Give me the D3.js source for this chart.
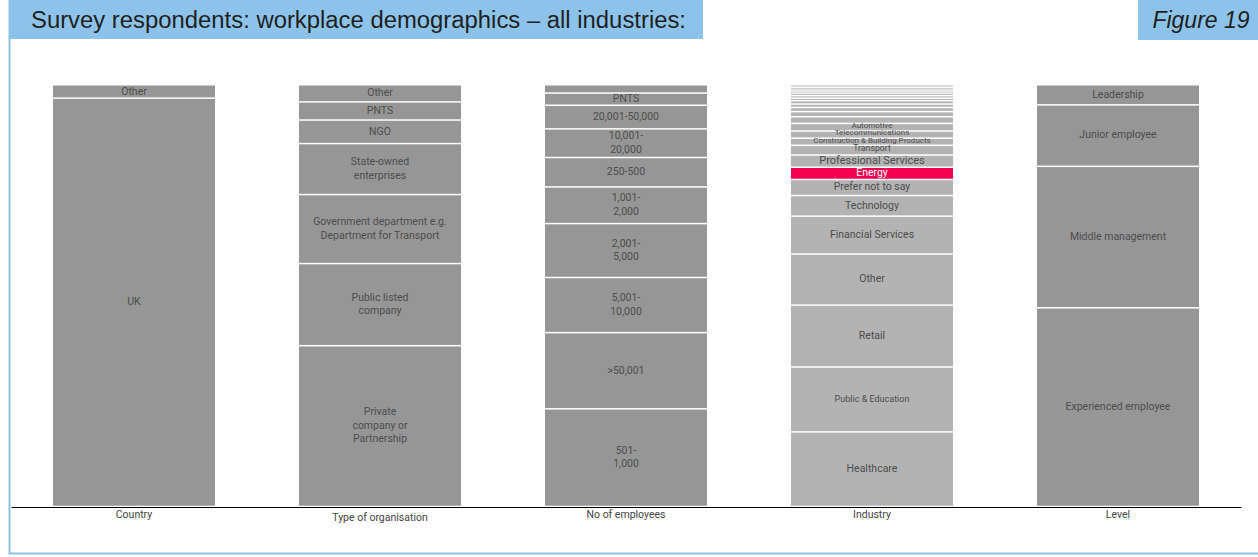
<!DOCTYPE html>
<html>
<head>
<meta charset="utf-8">
<script src="https://cdn.jsdelivr.net/npm/d3@7"></script>
<style>
  html, body { margin: 0; padding: 0; background: #fff; }
  svg { display: block; }
</style>
</head>
<body>
<div id="chart"></div>
<script>
// Survey respondents: workplace demographics - stacked share columns
// shares in %, listed top to bottom as stacked in the picture

const columns = ['Country', 'Type of organisation', 'No of employees', 'Industry', 'Level'];

const countryLabels = ['Other', 'UK'];
const countryValues = [3.0, 97.0];

const orgLabels = ['Other', 'PNTS', 'NGO', 'State-owned\nenterprises',
  'Government department e.g.\nDepartment for Transport', 'Public listed\ncompany',
  'Private\ncompany or\nPartnership'];
const orgValues = [3.9, 4.3, 5.6, 12.1, 16.4, 19.5, 38.2];

const employeeLabels = ['', 'PNTS', '20,001-50,000', '10,001-\n20,000', '250-500',
  '1,001-\n2,000', '2,001-\n5,000', '5,001-\n10,000', '>50,001', '501-\n1,000'];
const employeeValues = [1.8, 2.9, 5.6, 6.8, 7.0, 8.7, 12.8, 13.1, 18.1, 23.2];

// the twelve thin unlabelled industries at the top of the column
const industryLabels = ['', '', '', '', '', '', '', '', '', '', '', '',
  'Automotive', 'Telecommunications', 'Construction & Building Products', 'Transport',
  'Professional Services', 'Energy', 'Prefer not to say', 'Technology',
  'Financial Services', 'Other', 'Retail', 'Public & Education', 'Healthcare'];
const industryValues = [0.4, 0.4, 0.5, 0.5, 0.6, 0.6, 0.6, 0.8, 0.8, 1.0, 1.2, 1.6,
  1.8, 1.7, 1.7, 2.3, 2.9, 2.9, 3.8, 4.9, 9.0, 12.1, 14.7, 15.4, 17.7];

const levelLabels = ['Leadership', 'Junior employee', 'Middle management', 'Experienced employee'];
const levelValues = [4.6, 14.6, 33.6, 47.2];

const highlight = 'Energy';

const W = 1258, H = 557;
const blue = '#8dc3ea';
const barGrey = '#969696';
const lightGrey = '#b3b3b3';
const textCol = '#4d4d4d';

const table = [
  { name: columns[0], labels: countryLabels, values: countryValues },
  { name: columns[1], labels: orgLabels, values: orgValues },
  { name: columns[2], labels: employeeLabels, values: employeeValues },
  { name: columns[3], labels: industryLabels, values: industryValues },
  { name: columns[4], labels: levelLabels, values: levelValues }
];

const svg = d3.select('#chart').append('svg')
  .attr('width', W).attr('height', H);

// frame + header
svg.append('path')
  .attr('d', `M9.5,0 V553.5 H${W}`)
  .attr('fill', 'none').attr('stroke', blue).attr('stroke-width', 2);

svg.append('rect').attr('x', 9).attr('y', 0).attr('width', 694).attr('height', 39).attr('fill', blue);
svg.append('text')
  .attr('x', 31).attr('y', 28)
  .attr('textLength', 655).attr('lengthAdjust', 'spacingAndGlyphs')
  .style('font-family', '"Liberation Sans", Arial, sans-serif').style('font-size', '23px')
  .style('fill', '#1f1f1f')
  .text('Survey respondents: workplace demographics \u2013 all industries:');

svg.append('rect').attr('x', 1138).attr('y', 0).attr('width', 120).attr('height', 40).attr('fill', blue);
svg.append('text')
  .attr('x', 1201).attr('y', 28).attr('text-anchor', 'middle')
  .style('font-family', '"Liberation Sans", Arial, sans-serif').style('font-size', '23px')
  .style('font-style', 'italic').style('fill', '#1f1f1f')
  .text('Figure 19');

// scales
const x = d3.scaleBand()
  .domain(columns)
  .range([11, 1241])
  .paddingInner(0.3415)
  .paddingOuter(0.3415 / 2);

const y = d3.scaleLinear().domain([0, 100]).range([85.5, 506.5]);

const chart = svg.append('g');

table.forEach(col => {
  const total = d3.sum(col.values);
  let acc = 0;
  const segs = col.values.map((v, i) => {
    const s = { label: col.labels[i], y0: acc / total * 100, y1: (acc + v) / total * 100 };
    acc += v;
    return s;
  });

  const g = chart.append('g').attr('transform', `translate(${x(col.name)},0)`);
  const bw = x.bandwidth();
  const base = col.name === 'Industry' ? lightGrey : barGrey;

  g.selectAll('rect')
    .data(segs)
    .join('rect')
    .attr('x', 0)
    .attr('width', bw)
    .attr('y', d => y(d.y0) + (d.y0 === 0 ? 0 : 0.75))
    .attr('height', d => {
      const h = y(d.y1) - y(d.y0);
      return Math.max(0.7, h - (d.y0 === 0 ? 0.75 : 1.5));
    })
    .attr('fill', d => d.label === highlight ? '#f5004f' : base);

  g.selectAll('text.seg')
    .data(segs.filter(d => d.label !== ''))
    .join('text')
    .attr('class', 'seg')
    .attr('text-anchor', 'middle')
    .style('font-family', 'Roboto, sans-serif')
    .style('fill', d => d.label === highlight ? '#fff' : textCol)
    .each(function (d) {
      const h = y(d.y1) - y(d.y0);
      let fs = Math.min(10.5, Math.max(8, h * 0.9));
      if (d.label === 'Public & Education') fs = 9;
      if (d.label === 'Professional Services') fs = 11;
      const lines = d.label.split('\n');
      const lh = 13.5;
      const cy = (y(d.y0) + y(d.y1)) / 2 - (h < 10 ? 2 : 1);
      const t = d3.select(this).style('font-size', fs + 'px');
      lines.forEach((ln, k) => {
        t.append('tspan')
          .attr('x', bw / 2)
          .attr('y', cy - (lines.length - 1) * lh / 2 + k * lh + fs * 0.36)
          .text(ln);
      });
    });
});

// baseline + category labels
const axis = chart.append('g')
  .attr('transform', 'translate(0,507)')
  .call(d3.axisBottom(x).tickSize(0).tickSizeOuter(0).tickPadding(4));
axis.select('.domain').attr('stroke', '#000').attr('stroke-width', 1);
axis.selectAll('text')
  .style('font-family', 'Roboto, sans-serif').style('font-size', '10.5px').style('fill', '#444')
  .attr('dy', d => d === 'Type of organisation' ? '0.95em' : '0.71em');
</script>
</body>
</html>
